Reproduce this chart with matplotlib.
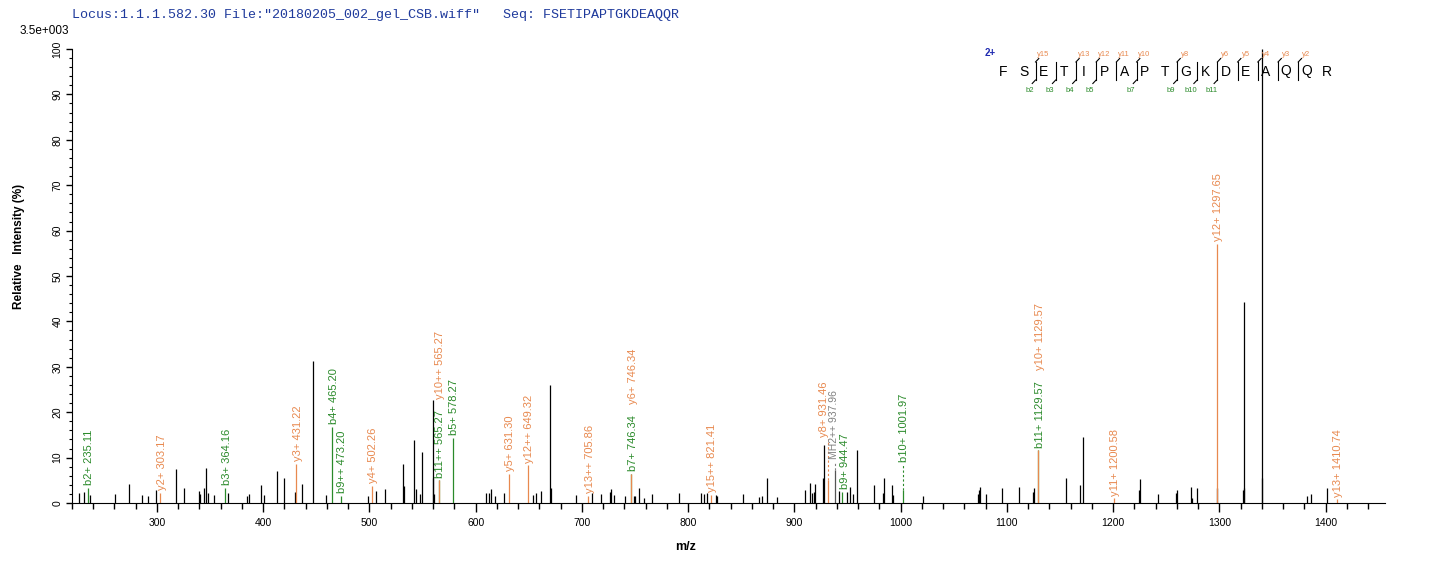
import matplotlib
matplotlib.use("Agg")
import matplotlib.pyplot as plt
from matplotlib.lines import Line2D
from matplotlib.ticker import MultipleLocator

plt.rcParams["font.family"] = ["Liberation Sans", "DejaVu Sans"]

# unassigned peaks (m/z, relative intensity %)
peak_mz = [226.3, 231.0, 237.0, 260.2, 273.4, 285.6, 291.3, 299.5, 317.6, 325.2,
           339.7, 340.6, 344.0, 346.3, 348.2, 353.5, 366.6, 384.9, 386.4, 397.7,
           400.5, 412.8, 419.4, 429.5, 436.5, 447.1, 459.4, 498.5, 506.0, 514.5,
           531.5, 532.4, 541.6, 543.7, 547.9, 549.4, 559.7, 560.3, 561.0, 609.6,
           612.2, 614.4, 618.2, 627.0, 654.3, 657.1, 661.5, 670.0, 670.9, 694.8,
           709.9, 718.4, 726.5, 727.8, 730.6, 741.0, 749.4, 750.3, 753.8, 758.8,
           766.4, 791.8, 812.2, 815.4, 817.3, 826.6, 827.2, 851.2, 866.3, 870.0,
           874.6, 883.2, 910.1, 914.9, 916.7, 918.3, 919.6, 927.1, 928.1, 941.6,
           949.7, 952.5, 955.3, 959.1, 974.6, 983.3, 984.0, 992.1, 993.1, 1021.3,
           1073.1, 1074.0, 1075.0, 1080.1, 1095.7, 1111.1, 1124.3, 1125.2, 1155.4, 1168.6,
           1172.0, 1224.8, 1225.7, 1242.6, 1259.1, 1260.6, 1273.8, 1274.7, 1279.4, 1298.0,
           1322.2, 1323.0, 1323.4, 1340.1, 1340.4, 1383.0, 1385.9, 1401.7]
peak_int = [2.2, 2.4, 1.8, 1.9, 4.1, 1.8, 1.6, 2.8, 7.4, 3.2,
            2.6, 1.9, 3.3, 7.7, 2.2, 1.8, 2.2, 1.6, 2.0, 3.9,
            1.8, 7.0, 5.5, 2.5, 4.1, 31.3, 1.8, 1.6, 2.6, 3.0,
            8.5, 3.7, 13.8, 3.0, 1.9, 11.2, 22.6, 5.4, 1.9, 2.1,
            2.1, 3.1, 1.6, 2.1, 1.8, 2.2, 2.7, 26.1, 3.2, 1.8,
            2.2, 2.0, 2.5, 3.1, 1.8, 1.6, 1.5, 1.5, 3.3, 1.1,
            2.0, 2.2, 2.1, 2.0, 2.2, 1.8, 1.6, 2.0, 1.3, 1.5,
            5.6, 1.4, 2.8, 4.5, 2.1, 2.5, 4.2, 5.6, 12.7, 2.7,
            2.5, 3.6, 2.0, 11.7, 3.9, 2.1, 5.6, 3.9, 1.8, 1.6,
            2.0, 2.9, 3.6, 2.0, 3.4, 3.6, 2.4, 3.2, 5.4, 3.9,
            14.6, 2.8, 5.2, 2.0, 2.3, 2.8, 3.6, 1.2, 3.2, 3.2,
            2.8, 44.3, 3.3, 100.0, 5.5, 1.6, 2.0, 3.2]

# assigned fragment ions
ion_labels = ["b2+ 235.11", "y2+ 303.17", "b3+ 364.16", "y3+ 431.22", "b4+ 465.20",
              "b9++ 473.20", "y4+ 502.26", "b11++ 565.27", "y10++ 565.27", "b5+ 578.27",
              "y5+ 631.30", "y12++ 649.32", "y13++ 705.86", "b7+ 746.34", "y6+ 746.34",
              "y15++ 821.41", "y8+ 931.46", "MH2++ 937.96", "b9+ 944.47", "b10+ 1001.97",
              "b11+ 1129.57", "y10+ 1129.57", "y11+ 1200.58", "y12+ 1297.65", "y13+ 1410.74"]
ion_mz = [235.11, 303.17, 364.16, 431.22, 465.20,
          473.20, 502.26, 565.27, 565.27, 578.27,
          631.30, 649.32, 705.86, 746.34, 746.34,
          821.41, 931.46, 937.96, 944.47, 1001.97,
          1129.57, 1129.57, 1200.58, 1297.65, 1410.74]
ion_int = [3.4, 2.3, 3.3, 8.6, 16.8,
           1.5, 3.7, 5.0, 5.0, 14.3,
           6.4, 8.3, 1.6, 6.4, 6.4,
           1.8, 5.0, 7.2, 2.5, 2.8,
           11.6, 11.6, 1.0, 57.1, 0.8]
ion_kind = ["b", "y", "b", "y", "b",
            "b", "y", "b", "y", "b",
            "y", "y", "y", "b", "y",
            "y", "y", "p", "b", "b",
            "b", "y", "y", "y", "y"]
# labels lifted above crowded neighbours (label base, %)
ion_lift = {"y8+ 931.46": 14.0, "MH2++ 937.96": 9.0, "b10+ 1001.97": 8.4}
# small sideways nudges (points) for the crowded 930-945 group
ion_nudge = {"y8+ 931.46": -2.5, "MH2++ 937.96": -0.3, "b9+ 944.47": 2.8}

sequence = "FSETIPAPTGKDEAQQR"
seq_b = [2, 3, 4, 5, 7, 9, 10, 11]
seq_y = [15, 13, 12, 11, 10, 8, 6, 5, 4, 3, 2]

GREEN = "#2a8a2a"
ORANGE = "#e8894f"
GRAY = "#808080"
colors = {"b": GREEN, "y": ORANGE, "p": GRAY}

W, H = 1436, 562
fig = plt.figure(figsize=(W / 100, H / 100), dpi=100)
ax = fig.add_axes([72 / W, 1 - 503 / H, 1313 / W, 454 / H])

ax.vlines(peak_mz, 0, peak_int, colors="black", linewidth=0.9)
for mz, inten, kind in zip(ion_mz, ion_int, ion_kind):
    ax.vlines(mz, 0, inten, colors="#555555" if kind == "p" else colors[kind], linewidth=0.9)

ax.set_xlim(220, 1456)
ax.set_ylim(0, 100)
ax.xaxis.set_major_locator(MultipleLocator(100))
ax.xaxis.set_minor_locator(MultipleLocator(20))
ax.yaxis.set_major_locator(MultipleLocator(10))
ax.yaxis.set_minor_locator(MultipleLocator(2))
ax.tick_params(axis="x", which="major", length=6.5, width=1, labelsize=7.5, pad=4)
ax.tick_params(axis="x", which="minor", length=4.3, width=1)
ax.tick_params(axis="y", which="major", length=4, width=1, labelsize=7.5, pad=3)
ax.tick_params(axis="y", which="minor", length=2.5, width=0.8)
for t in ax.get_yticklabels():
    t.set_rotation(90)
    t.set_va("center")
for s in ["top", "right"]:
    ax.spines[s].set_visible(False)
ax.set_xlabel("m/z", fontsize=9, fontweight="bold")
ax.xaxis.set_label_coords(0.467, -0.084)
ax.set_ylabel("Relative   Intensity (%)", fontsize=8.5, fontweight="bold")
ax.yaxis.set_label_coords(-0.036, 0.566)

# peak labels; a second label at the same m/z is stacked above the first
fig.canvas.draw()
renderer = fig.canvas.get_renderer()
placed = {}
for lab, mz, inten, kind in zip(ion_labels, ion_mz, ion_int, ion_kind):
    base = ion_lift.get(lab, inten)
    dy = 2
    if mz in placed:
        top_px = placed[mz].get_window_extent(renderer).y1
        base = ax.transData.inverted().transform((0, top_px))[1]
        dy = 8
    if lab in ion_lift:
        ax.vlines(mz, inten, base, colors=colors[kind], linewidth=0.8, linestyles=(0, (2, 2)))
    dx = ion_nudge.get(lab, 1)
    fs = 7.5 if kind == "p" else 8
    t = ax.annotate(lab, (mz, base), xytext=(dx, dy), textcoords="offset points",
                    rotation=90, ha="center", va="bottom", fontsize=fs,
                    color=colors[kind], annotation_clip=False)
    placed[mz] = t
    fig.canvas.draw()

# header texts
fig.text(72 / W, 1 - 15 / H, 'Locus:1.1.1.582.30 File:"20180205_002_gel_CSB.wiff"',
         family="Liberation Mono", fontsize=9.6, color="#1f3a9c", va="center")
fig.text(503 / W, 1 - 15 / H, "Seq: FSETIPAPTGKDEAQQR",
         family="Liberation Mono", fontsize=9.6, color="#1f3a9c", va="center")
fig.text(20 / W, 1 - 31 / H, "3.5e+003", fontsize=8.5, va="center")

# sequence coverage map
x0, step, ly = 1003.3, 20.21, 71.5
fig.text(990 / W, 1 - 53 / H, "2+", fontsize=7, color="#1f2ab0", fontweight="bold",
         ha="center", va="center")
for i, aa in enumerate(sequence):
    fig.text((x0 + i * step) / W, 1 - ly / H, aa, fontsize=10, ha="center", va="center")


def fpt(x, y):
    return x / W, 1 - y / H


n = len(sequence)
for i in range(1, n):
    has_b = i in seq_b
    has_y = (n - i) in seq_y
    if not (has_b or has_y):
        continue
    bx = x0 + (i - 1) * step + 12
    fig.lines.append(Line2D(*zip(fpt(bx, 62), fpt(bx, 80)), color="black",
                            linewidth=0.8, transform=fig.transFigure))
    if has_y:
        fig.lines.append(Line2D(*zip(fpt(bx, 62), fpt(bx + 3.3, 58.5)), color="black",
                                linewidth=0.8, transform=fig.transFigure))
        fig.text((bx + 8) / W, 1 - 54 / H, "y%d" % (n - i), fontsize=5.5, color=ORANGE,
                 ha="center", va="center")
    if has_b:
        fig.lines.append(Line2D(*zip(fpt(bx, 80), fpt(bx - 3.3, 83.5)), color="black",
                                linewidth=0.8, transform=fig.transFigure))
        fig.text((bx - 6) / W, 1 - 90 / H, "b%d" % i, fontsize=5.5, color=GREEN,
                 ha="center", va="center")

fig.savefig("out.png", dpi=100)
